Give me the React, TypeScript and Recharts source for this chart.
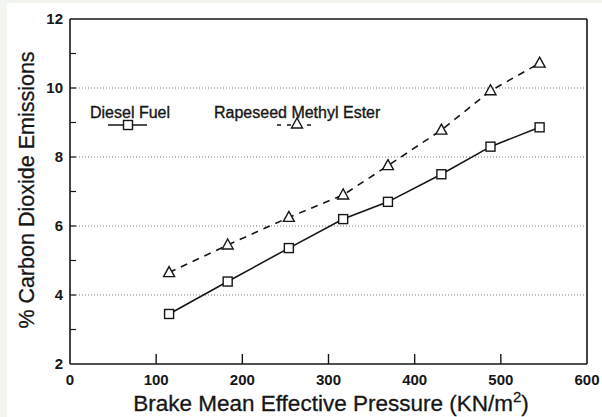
import React from 'react';
import { LineChart, Line, XAxis, YAxis, ReferenceLine } from 'recharts';

const pressure = [115, 183, 254, 317, 369, 431, 488, 545];
const dieselCO2 = [3.45, 4.39, 5.36, 6.2, 6.7, 7.5, 8.3, 8.86];
const rmeCO2 = [4.65, 5.45, 6.25, 6.9, 7.75, 8.78, 9.92, 10.72];

const xTicks = [0, 100, 200, 300, 400, 500, 600];
const yTicks = [2, 3, 4, 5, 6, 7, 8, 9, 10, 11, 12];
const yLabels = [2, 4, 6, 8, 10, 12];
const gridValues = [4, 6, 8, 10];

const data = pressure.map((p, i) => ({ p, diesel: dieselCO2[i], rme: rmeCO2[i] }));

const INK = '#161616';
const FONT = '"Liberation Sans", Arial, sans-serif';

const SquareDot = (props: any) => {
  const { cx, cy } = props;
  if (cx == null || cy == null) return null;
  return <rect x={cx - 4.5} y={cy - 4.5} width={9} height={9} fill="#fff" stroke={INK} strokeWidth={1.4} />;
};

const TriangleDot = (props: any) => {
  const { cx, cy } = props;
  if (cx == null || cy == null) return null;
  return (
    <path
      d={`M${cx},${cy - 6} L${cx + 5.5},${cy + 4} L${cx - 5.5},${cy + 4} Z`}
      fill="#fff"
      stroke={INK}
      strokeWidth={1.4}
    />
  );
};

const XTick = (props: any) => {
  const { x, y, payload } = props;
  const v = payload.value;
  const axisY = y - 8;
  return (
    <g>
      {v > 0 && v < 600 && <line x1={x} x2={x} y1={axisY} y2={axisY - 10} stroke={INK} strokeWidth={1.4} />}
      <text x={x} y={y + 13} textAnchor="middle" fontSize={15} fontWeight="bold" fontFamily={FONT} fill={INK}>
        {v}
      </text>
    </g>
  );
};

const YTick = (props: any) => {
  const { x, y, payload } = props;
  const v = payload.value;
  const axisX = x + 7;
  const labelled = yLabels.includes(v);
  return (
    <g>
      {v > 2 && v < 12 && <line x1={axisX} x2={axisX + 6} y1={y} y2={y} stroke={INK} strokeWidth={1.2} />}
      {labelled && (
        <text x={x} y={y + 5} textAnchor="end" fontSize={15} fontWeight="bold" fontFamily={FONT} fill={INK}>
          {v}
        </text>
      )}
    </g>
  );
};

const Legend = () => (
  <g fontFamily={FONT} fontSize={16} fill={INK} stroke={INK} strokeWidth={0.35}>
    <text x={90} y={118}>Diesel Fuel</text>
    <text x={214} y={118}>Rapeseed Methyl Ester</text>
    <line x1={108} x2={147} y1={125} y2={125} stroke={INK} strokeWidth={1.6} />
    <SquareDot cx={128} cy={125} />
    <line x1={277} x2={315} y1={125} y2={125} stroke={INK} strokeWidth={1.6} strokeDasharray="4 6" />
    <TriangleDot cx={297} cy={124} />
  </g>
);

const AxisTitles = () => (
  <g fontFamily={FONT} fill={INK} stroke={INK} strokeWidth={0.3}>
    <text x={331} y={411} textAnchor="middle" fontSize={22.5}>
      Brake Mean Effective Pressure (KN/m
      <tspan dy={-9} fontSize={15}>2</tspan>
      <tspan dy={9}>)</tspan>
    </text>
    <text x={34} y={190} transform="rotate(-90 34 190)" textAnchor="middle" fontSize={21.5}>
      % Carbon Dioxide Emissions
    </text>
  </g>
);

export default function App() {
  return (
    <div style={{ position: 'absolute', left: 0, top: 0, width: 602, height: 417, background: '#f3f5f0' }}>
      <div style={{ position: 'absolute', left: 7, top: 3, width: 595, height: 414, background: '#fff' }} />
      <div style={{ position: 'absolute', left: 0, top: 0 }}>
        <LineChart width={602} height={417} data={data} margin={{ top: 19, right: 15, left: 10, bottom: 13 }}>
          {gridValues.map((g) => (
            <ReferenceLine key={g} y={g} stroke="#777" strokeWidth={1} strokeDasharray="1 2" />
          ))}
          <ReferenceLine y={12} stroke={INK} strokeWidth={1.6} />
          <ReferenceLine x={600} stroke={INK} strokeWidth={1.6} />
          <XAxis
            dataKey="p"
            type="number"
            domain={[0, 600]}
            ticks={xTicks}
            interval={0}
            tickSize={0}
            tickMargin={8}
            tickLine={false}
            axisLine={{ stroke: INK, strokeWidth: 1.6 }}
            tick={<XTick />}
            height={40}
          />
          <YAxis
            type="number"
            domain={[2, 12]}
            ticks={yTicks}
            interval={0}
            tickSize={0}
            tickMargin={7}
            tickLine={false}
            axisLine={{ stroke: INK, strokeWidth: 1.6 }}
            tick={<YTick />}
            width={60}
          />
          <Line
            type="linear"
            dataKey="diesel"
            stroke={INK}
            strokeWidth={1.6}
            dot={<SquareDot />}
            activeDot={false}
            isAnimationActive={false}
          />
          <Line
            type="linear"
            dataKey="rme"
            stroke={INK}
            strokeWidth={1.6}
            strokeDasharray="7 6"
            dot={<TriangleDot />}
            activeDot={false}
            isAnimationActive={false}
          />
          <Legend />
          <AxisTitles />
        </LineChart>
      </div>
    </div>
  );
}
